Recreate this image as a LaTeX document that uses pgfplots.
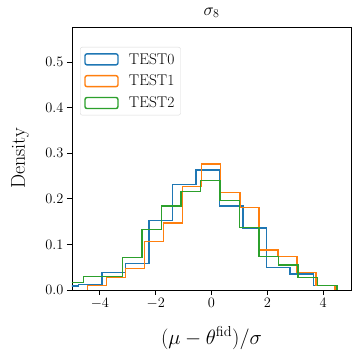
\documentclass[border=0pt]{standalone}
\usepackage{pgfplots}
\pgfplotsset{compat=1.18}
\definecolor{tabblue}{HTML}{1F77B4}
\definecolor{taborange}{HTML}{FF7F0E}
\definecolor{tabgreen}{HTML}{2CA02C}
\begin{document}
\begin{tikzpicture}
\begin{axis}[
  width=279pt, height=263pt, scale only axis,
  xmin=-5, xmax=5, ymin=0, ymax=0.577,
  xtick={-4,-2,0,2,4},
  ytick={0,0.1,0.2,0.3,0.4,0.5},
  yticklabel style={/pgf/number format/.cd,fixed,fixed zerofill,precision=1},
  tick align=outside, tick pos=left, major tick length=5pt,
  axis line style={line width=0.8pt},
  tick style={line width=0.8pt, black},
  tick label style={font=\fontsize{15}{17}\selectfont},
  title={$\sigma_8$},
  title style={font=\fontsize{18}{20}\selectfont, at={(0.5,1.022)}, anchor=base},
  xlabel={$(\mu-\theta^{\mathrm{fid}})/\sigma$},
  ylabel={Density},
  xlabel style={font=\fontsize{20}{22}\selectfont, at={(axis description cs:0.5,-0.183)}, anchor=center},
  ylabel style={font=\fontsize{20}{22}\selectfont, at={(axis description cs:-0.186,0.5)}, anchor=center, rotate=0},
  legend cell align=left,
  legend style={at={(0.029,0.924)}, anchor=north west, draw=black!15,
    rounded corners=2pt, fill=white, font=\fontsize{15.5}{17}\selectfont,
    row sep=5.5pt, inner sep=4pt},
  legend image code/.code={\draw[#1,fill=none] (0pt,-5.5pt) rectangle (33pt,5.5pt);
    \path[draw=none] (0pt,0pt) -- (42pt,0pt);},
]
\coordinate (A) at (rel axis cs:0,0);
\coordinate (B) at (rel axis cs:1,1);
\addplot[tabblue, line width=1.4pt, const plot] coordinates {
  (-5.60,0) (-5.60,0.009) (-4.76,0.012) (-3.92,0.039) (-3.08,0.058)
  (-2.24,0.152) (-1.39,0.231) (-0.55,0.263) (0.29,0.184) (1.13,0.136)
  (1.97,0.050) (2.82,0.035) (3.66,0.010) (4.50,0.010) (4.50,0)
};
\addlegendentry{TEST0}
\addplot[taborange, line width=1.4pt, const plot] coordinates {
  (-4.45,0) (-4.45,0.010) (-3.77,0.028) (-3.08,0.047) (-2.40,0.106)
  (-1.72,0.147) (-1.03,0.227) (-0.35,0.276) (0.33,0.214) (1.02,0.181)
  (1.70,0.088) (2.38,0.073) (3.07,0.038) (3.75,0.0095) (4.43,0.0095) (4.43,0)
};
\addlegendentry{TEST1}
\addplot[tabgreen, line width=1.4pt, const plot] coordinates {
  (-5.29,0) (-5.29,0.017) (-4.59,0.029) (-3.89,0.029) (-3.19,0.071)
  (-2.49,0.133) (-1.79,0.184) (-1.09,0.216) (-0.39,0.240) (0.30,0.197)
  (1.00,0.137) (1.70,0.073) (2.40,0.055) (3.10,0.028) (3.80,0.010)
  (4.50,0.010) (4.50,0)
};
\addlegendentry{TEST2}
\end{axis}
\path ([shift={(-72pt,-71pt)}]A) rectangle ([shift={(12pt,27pt)}]B);
\end{tikzpicture}
\end{document}
